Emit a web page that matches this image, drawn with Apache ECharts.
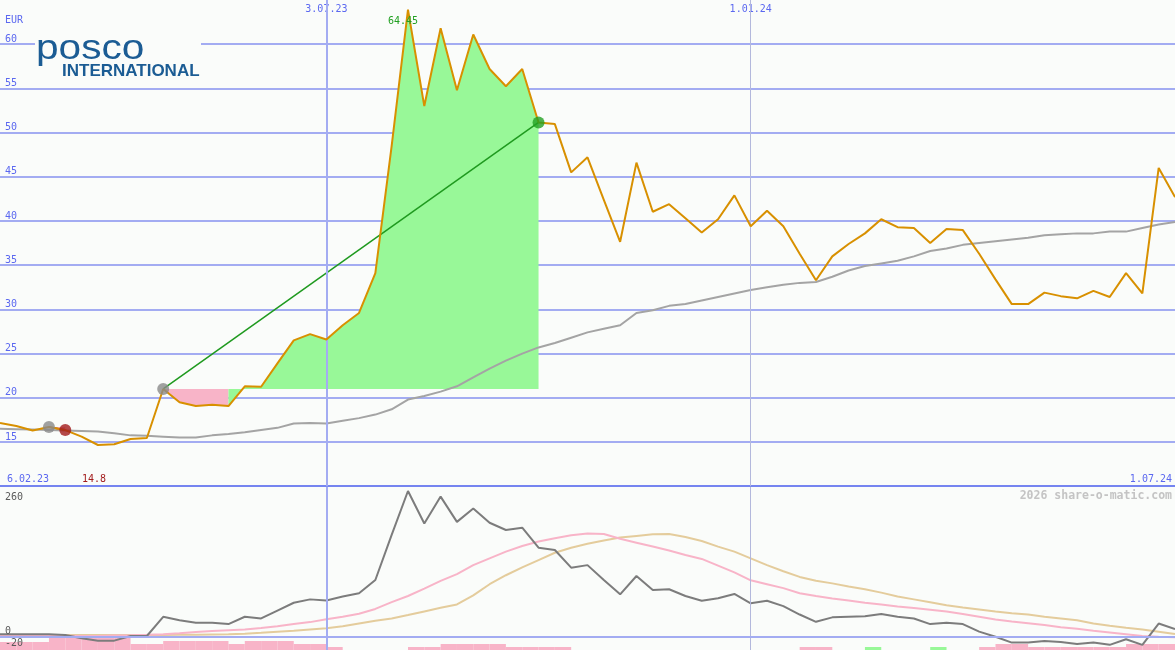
<!DOCTYPE html>
<html><head><meta charset="utf-8">
<script src="https://cdn.jsdelivr.net/npm/echarts@6/dist/echarts.min.js"></script>
<style>html,body{margin:0;padding:0;background:#fafcfa}#c{width:1175px;height:650px}</style>
</head><body><div id="c"></div>
<script>
// ---- data (weekly, week 0 = 13.02.23, week 72 = 1.07.24) ----
const price = [17.15,16.8,16.3,16.7,16.35,15.6,14.66,14.75,15.34,15.45,
  21.0,19.5,19.07,19.2,19.07,21.3,21.25,23.9,26.5,27.2,
  26.6,28.2,29.6,34.1,48.5,63.9,53.0,61.8,54.8,61.1,
  57.2,55.25,57.2,51.15,50.96,45.5,47.2,42.4,37.65,46.6,
  41.05,41.9,40.3,38.7,40.2,42.9,39.4,41.15,39.4,36.3,
  33.3,36.0,37.4,38.6,40.2,39.3,39.2,37.5,39.1,38.97,
  36.3,33.4,30.6,30.6,31.9,31.5,31.25,32.1,31.4,34.1,
  31.8,46.0,42.7];
const average = [16.5,16.45,16.4,16.35,16.3,16.25,16.2,16.0,15.75,15.7,
  15.6,15.5,15.5,15.75,15.9,16.1,16.35,16.6,17.1,17.15,
  17.1,17.4,17.7,18.1,18.7,19.8,20.2,20.7,21.3,22.3,
  23.3,24.2,25.0,25.7,26.2,26.8,27.4,27.8,28.2,29.6,
  29.9,30.4,30.6,31.0,31.4,31.8,32.2,32.5,32.8,33.0,
  33.1,33.7,34.4,34.9,35.2,35.5,36.0,36.6,36.9,37.3,
  37.5,37.7,37.9,38.1,38.4,38.5,38.6,38.6,38.8,38.8,
  39.2,39.6,39.9];
const momentum = [5,5,5,5,3.6,-2.4,-6.5,-6.5,1.8,1.8,
  36,30,25.5,25.5,23,36,33,47,61,67,
  65,72,78,101.5,182,260,202,250,205,229,
  203.5,190.6,194.7,159,155,123.5,128,101.5,76,108.6,
  83.7,85,73,64.6,69,76.6,60,64.6,55,40,
  27,35,36,37,41,36,33,23,25.5,23,
  9.5,0.5,-10,-10,-7,-9,-12.5,-10,-14,-4,
  -14,24,14];
const momentumFast = [3.6,3.3,3,2.6,2.3,2,1.8,2.5,3.2,4,
  5,6.5,9,10.5,12,13.5,16,19,23,26.5,
  31.5,36,41.5,50,62,73,86,100,112,128,
  140,152,162,170,176,181,184.5,183.5,175,168,
  161,154,146,139,127,115,101,94,87,78,
  73,68.5,65,61,58,54.5,51.5,48.5,45.5,41,
  36,31,27.5,24.5,21.5,17.5,14.5,11,8,5,
  1.8,0.5,-0.5];
const momentumSlow = [3.6,3.6,3.6,3.6,3.6,3.6,3.6,3.6,3.6,3.6,
  3.6,3.8,4.2,4.6,5,6,7.5,9.3,11,13.5,
  15.4,19,24,29,33,39,45.5,52,58,74,
  94,110,124,137,150,159,166,172,177,180,
  183,183.5,178,171,161,152,140,128,117,107,
  100,95.5,90,85,79,72,67,62,56.5,52.5,
  49,45.5,42.5,40,36,33,30,24,20,16.5,
  13.5,9.5,5.3];
const volume = [8,8,8,12,12,12,12,12,6,6,
  9,9,9,9,6,9,9,9,6,6,
  3,0,0,0,0,3,3,6,6,6,
  6,3,3,3,3,0,0,0,0,0,
  0,0,0,0,0,0,0,0,0,3,
  3,0,0,3,0,0,0,3,0,0,
  3,6,6,3,3,3,3,3,3,6,
  6,6];
const volumeSide = volume.map((v,i)=> (i===53||i===57) ? 'up' : 'down');
const trades = [[3,4],[10,33]];           // entry week, exit week
const topTicks = [20,46];
const topTickLabels = ['3.07.23','1.01.24'];
const rangeLabels = ['6.02.23','1.07.24'];
const priceTicks = [15,20,25,30,35,40,45,50,55,60];
const lowerTicks = [260,0,-20];
const peakLabel = '64.45';
const lowLabel = '14.8';
const unitLabel = 'EUR';
const watermark = '2026 share-o-matic.com';

// ---- styling ----
const BG='#fafcfa', GRID='#a3acf2', AXISBLUE='#5b68f0', GREEN='#98f898', PINK='#f8b4c8';
const MONO='DejaVu Sans Mono';
const pts = a => a.map((v,i)=>[i,v]);

const series = [];
series.push({type:'line', xAxisIndex:0, yAxisIndex:0, data:pts(price), symbol:'none', lineStyle:{opacity:0}, z:1, silent:true,
  markLine:{symbol:'none', silent:true, label:{show:false}, animation:false,
    data:[{xAxis:topTicks[0], lineStyle:{color:GRID,width:2,type:'solid'}},{xAxis:topTicks[1], lineStyle:{color:'#b3b8dc',width:1,type:'solid'}}]}});
trades.forEach(([a,b])=>{
  const entry = price[a];
  const runs=[]; let run=null;
  for(let i=a;i<b;i++){
    const col = price[i+1] >= entry ? GREEN : PINK;
    if(!run || run.col!==col){ run={col,start:i,end:i+1}; runs.push(run);} else run.end=i+1;
  }
  runs.forEach(r=>series.push({type:'line', xAxisIndex:0, yAxisIndex:0, data:pts(price).slice(r.start,r.end+1),
    symbol:'none', lineStyle:{width:0}, areaStyle:{color:r.col, opacity:1, origin:entry}, z:2, silent:true}));
});
series.push({type:'line', xAxisIndex:0, yAxisIndex:0, data:pts(average), symbol:'none', lineStyle:{color:'#a4a4a4', width:2}, z:3});
trades.forEach(([a,b])=>series.push({type:'line', xAxisIndex:0, yAxisIndex:0, data:[[a,price[a]],[b,price[b]]], symbol:'none',
  lineStyle:{color: price[b]>=price[a] ? '#1f9a1f' : '#a01a1a', width:1.5}, z:4}));
series.push({type:'line', xAxisIndex:0, yAxisIndex:0, data:pts(price), symbol:'none', lineStyle:{color:'#d89000', width:2}, z:5});
const markers=[];
trades.forEach(([a,b])=>{
  markers.push({value:[a,price[a]], itemStyle:{color:'#8a8a8a'}});
  markers.push({value:[b,price[b]], itemStyle:{color: price[b]>=price[a] ? '#22a022' : '#a31c1c'}});
});
series.push({type:'scatter', xAxisIndex:0, yAxisIndex:0, data:markers, symbolSize:12, z:6});

series.push({type:'line', xAxisIndex:2, yAxisIndex:1, data:pts(momentum), symbol:'none', lineStyle:{opacity:0}, z:1, silent:true,
  markLine:{symbol:'none', silent:true, label:{show:false}, animation:false,
    data:[{xAxis:topTicks[0], lineStyle:{color:GRID,width:2,type:'solid'}},{xAxis:topTicks[1], lineStyle:{color:'#b3b8dc',width:1,type:'solid'}},
          {yAxis:0, lineStyle:{color:GRID,width:2,type:'solid'}}]}});
series.push({type:'line', xAxisIndex:2, yAxisIndex:1, data:pts(momentumSlow), symbol:'none', lineStyle:{color:'#e4cc9c', width:2}, z:3});
series.push({type:'line', xAxisIndex:2, yAxisIndex:1, data:pts(momentumFast), symbol:'none', lineStyle:{color:'#f8b4c8', width:2}, z:3});
series.push({type:'line', xAxisIndex:2, yAxisIndex:1, data:pts(momentum), symbol:'none', lineStyle:{color:'#7c7c7c', width:2}, z:4});
series.push({type:'bar', xAxisIndex:3, yAxisIndex:2, barCategoryGap:0, barGap:0, z:2, silent:true,
  data: volume.map((v,i)=>({value:v, itemStyle:{color: volumeSide[i]==='up' ? GREEN : PINK}}))});

const chart = echarts.init(document.getElementById('c'));
chart.setOption({
  animation:false,
  backgroundColor:BG,
  grid:[
    {left:0,right:0,top:0,height:486.2},
    {left:0,right:0,top:487,height:163},
    {left:0,right:0,top:630,height:20}
  ],
  xAxis:[
    {type:'value', gridIndex:0, min:0, max:72, position:'top', axisLine:{show:false}, axisTick:{show:false}, splitLine:{show:false},
      axisLabel:{inside:true, customValues:topTicks, formatter:v=>topTickLabels[topTicks.indexOf(v)], color:AXISBLUE, fontFamily:MONO, fontSize:10, margin:4}},
    {type:'value', gridIndex:0, min:0, max:72, position:'bottom', axisLine:{show:true, lineStyle:{color:'#7584f0', width:2}}, axisTick:{show:false}, axisLabel:{show:false}, splitLine:{show:false}},
    {type:'value', gridIndex:1, min:0, max:72, show:false},
    {type:'category', gridIndex:2, data:volume.map((v,i)=>i), show:false, boundaryGap:true}
  ],
  yAxis:[
    {type:'value', gridIndex:0, min:10, max:65, interval:5, axisLine:{show:false}, axisTick:{show:false},
      splitLine:{show:true, showMinLine:false, showMaxLine:false, lineStyle:{color:GRID, width:2}},
      axisLabel:{inside:true, margin:5, verticalAlign:'bottom', color:AXISBLUE, fontFamily:MONO, fontSize:10,
        formatter:v=> priceTicks.includes(v) ? String(v) : ''}},
    {type:'value', gridIndex:1, min:-23.15, max:267.1, show:false},
    {type:'value', gridIndex:2, min:0, max:20, show:false}
  ],
  series
});

const px = (gi, x, y) => chart.convertToPixel({gridIndex:gi}, [x,y]);
let maxI=0, minI=0; price.forEach((v,i)=>{ if(v>price[maxI]) maxI=i; if(v<price[minI]) minI=i; });
const pk = px(0, maxI, price[maxI]);
const lw = px(0, minI, price[minI]);
const txt = (x,y,t,color,align,va)=>({type:'text', x, y, z:100, silent:true,
  style:{text:t, fill:color, font:'10px "'+MONO+'"', align:align, verticalAlign:va}});
const g = [
  {type:'rect', shape:{x:35,y:30,width:166,height:52}, style:{fill:BG}, z:90, silent:true},
  {type:'text', x:36, y:49, z:100, scaleX:1.16, silent:true, style:{text:'posco', fill:'#1b5c94', font:'35px "Liberation Sans"', align:'left', verticalAlign:'middle'}},
  {type:'text', x:62, y:71, z:100, silent:true, style:{text:'INTERNATIONAL', fill:'#1b5c94', font:'bold 17px "Liberation Sans"', align:'left', verticalAlign:'middle'}},
  txt(5, 20, unitLabel, AXISBLUE, 'left', 'middle'),
  txt(pk[0]-5, pk[1]+12, peakLabel, '#22a022', 'center', 'middle'),
  txt(lw[0]-4, 479, lowLabel, '#a31c1c', 'center', 'middle'),
  txt(7, 479, rangeLabels[0], AXISBLUE, 'left', 'middle'),
  txt(1172, 479, rangeLabels[1], AXISBLUE, 'right', 'middle'),
  {type:'text', x:1172, y:496, z:100, silent:true, style:{text:watermark, fill:'#c4c4c4', font:'bold 11.5px "'+MONO+'"', align:'right', verticalAlign:'middle'}},
  txt(5, px(1,0,lowerTicks[0])[1]+1, String(lowerTicks[0]), '#5a5a5a', 'left', 'top'),
  txt(5, px(1,0,lowerTicks[1])[1]-1, String(lowerTicks[1]), '#5a5a5a', 'left', 'bottom'),
  txt(5, px(1,0,lowerTicks[2])[1]+0.5, String(lowerTicks[2]), '#5a5a5a', 'left', 'bottom')
];
chart.setOption({graphic:g});
</script>
</body></html>
